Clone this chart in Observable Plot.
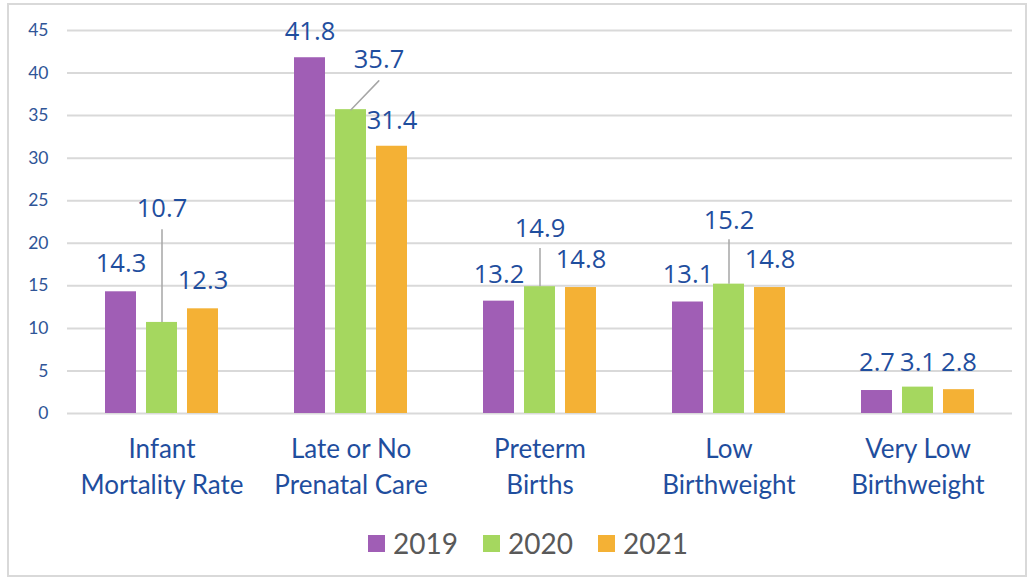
<!DOCTYPE html>
<html>
<head>
<meta charset="utf-8">
<script src="https://cdn.jsdelivr.net/npm/d3@7"></script>
<script src="https://cdn.jsdelivr.net/npm/@observablehq/plot@0.6"></script>
<style>
  html, body { margin: 0; padding: 0; background: #fff; }
  body { width: 1029px; height: 579px; overflow: hidden; position: relative; font-family: Lato, sans-serif; }
  #frame { position: absolute; left: 7px; top: 3px; width: 1020px; height: 574px; border: 2px solid #d9d9d9; box-sizing: border-box; }
  #chart { position: absolute; left: 0; top: 0; }
  #legend { position: absolute; left: 368px; top: 526px; display: flex; align-items: center; font-family: Lato, sans-serif; font-size: 28px; color: #595959; }
  #legend .item { display: flex; align-items: center; margin-right: 25px; }
  #legend .sw { width: 17px; height: 17px; margin-right: 8px; }
</style>
</head>
<body>
<div id="frame"></div>
<div id="chart"></div>
<div id="legend"></div>
<script>
// ---- data ----
const categories = ["Infant Mortality Rate", "Late or No Prenatal Care", "Preterm Births", "Low Birthweight", "Very Low Birthweight"];
const categoryLabels = ["Infant\nMortality Rate", "Late or No\nPrenatal Care", "Preterm\nBirths", "Low\nBirthweight", "Very Low\nBirthweight"];
const years = ["2019", "2020", "2021"];
const values2019 = [14.3, 41.8, 13.2, 13.1, 2.7];
const values2020 = [10.7, 35.7, 14.9, 15.2, 3.1];
const values2021 = [12.3, 31.4, 14.8, 14.8, 2.8];
const yTicks = [0, 5, 10, 15, 20, 25, 30, 35, 40, 45];
const colors = ["#A05EB5", "#A5D75F", "#F4B135"];

// ---- label placement (value units, as placed in the source chart) ----
const labelAt2019 = [17.6, 44.9, 16.3, 16.3, 6.0];
const labelAt2020 = [24.1, 41.5, 21.7, 22.6, 6.0];
const labelAt2021 = [15.6, 34.4, 18.0, 18.0, 6.0];
const leaderTop2020 = [21.6, null, 19.4, 20.4, null];

const seriesValues = [values2019, values2020, values2021];
const labelAt = [labelAt2019, labelAt2020, labelAt2021];
const data = [];
years.forEach((yr, j) => categories.forEach((c, i) => data.push({
  cat: c, year: yr, value: seriesValues[j][i], ly: labelAt[j][i],
  moved: j === 1 && i === 1
})));
const leaders = categories.map((c, i) => ({cat: c, year: "2020", top: leaderTop2020[i], value: values2020[i]}))
  .filter(d => d.top != null);
const diagonal = [{cat: categories[1], year: "2020", value: values2020[1]}];
const labelMap = Object.fromEntries(categories.map((c, i) => [c, categoryLabels[i]]));

const lineShape = {draw(context, l) { context.moveTo(0, 0); context.lineTo(0, -l); }};
const labelStyle = {fx: "cat", x: "year", y: "ly", text: d => d.value.toFixed(1), fill: "#1F4E9E", fontSize: 25.5, fontFamily: "'Open Sans', sans-serif"};

const chart = Plot.plot({
  width: 1029,
  height: 515,
  marginTop: 30,
  marginBottom: 102,
  marginLeft: 66,
  marginRight: 17,
  style: {background: "transparent", fontFamily: "Lato, sans-serif"},
  fx: {domain: categories, padding: 0, label: null},
  x: {domain: years, paddingInner: 0.238, paddingOuter: 0.8714, axis: null},
  y: {domain: [0, 45], label: null},
  color: {domain: years, range: colors},
  marks: [
    Plot.ruleY(yTicks, {stroke: "#d9d9d9", strokeWidth: 2}),
    Plot.axisY({ticks: yTicks, tickSize: 0, tickPadding: 19, fontSize: 17.5, fill: "#2F5597", label: null}),
    Plot.axisFx({anchor: "bottom", tickFormat: d => labelMap[d], tickSize: 0, tickPadding: 20, fontSize: 26, lineHeight: 1.35, fill: "#1F4E9E", label: null}),
    Plot.barY(data, {fx: "cat", x: "year", y: "value", fill: "year"}),
    Plot.ruleX(leaders, {fx: "cat", x: "year", y1: "top", y2: "value", stroke: "#A6A6A6", strokeWidth: 1.5}),
    Plot.vector(diagonal, {fx: "cat", x: "year", y: "value", length: 40, rotate: 44, anchor: "start", shape: lineShape, stroke: "#A6A6A6", strokeWidth: 1.5}),
    Plot.text(data.filter(d => !d.moved), labelStyle),
    Plot.text(data.filter(d => d.moved), {...labelStyle, dx: 28})
  ]
});
document.getElementById("chart").appendChild(chart);

// ---- legend ----
const legend = document.getElementById("legend");
years.forEach((yr, j) => {
  const item = document.createElement("div");
  item.className = "item";
  const sw = document.createElement("div");
  sw.className = "sw";
  sw.style.background = colors[j];
  const t = document.createElement("span");
  t.textContent = yr;
  item.appendChild(sw);
  item.appendChild(t);
  legend.appendChild(item);
});
</script>
</body>
</html>
